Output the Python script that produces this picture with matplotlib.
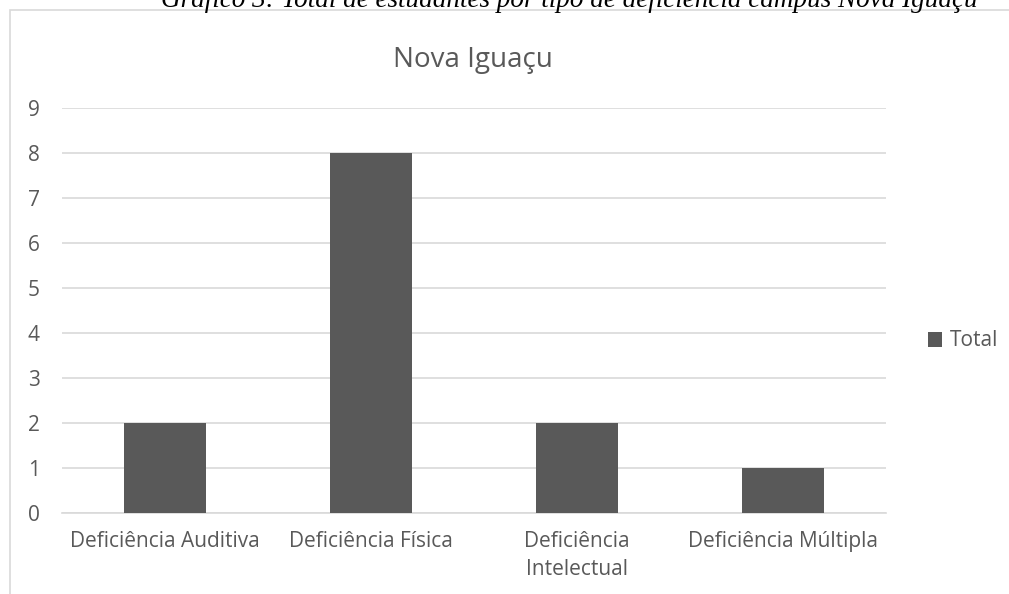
""" total de estudantes por tipo de deficiencia - campus Nova Iguacu """
import matplotlib.pyplot as plt
from matplotlib.patches import Rectangle
import numpy as np

categorias = ["Deficiência Auditiva", "Deficiência Física", "Deficiência\nIntelectual", "Deficiência Múltipla"]
totais = [2, 8, 2, 1]
yticks = list(range(0, 10))

cinza = "#595959"
grade = "#d9d9d9"
fonte = "Open Sans"

fig = plt.figure(figsize=(10.09, 5.94), dpi=100)
W, H = 1009, 594

# moldura do grafico (cortada pela borda da imagem)
fig.patches.append(Rectangle((10 / W, -0.1), 1.2, (594 - 10) / H + 0.1, transform=fig.transFigure,
                             fill=False, edgecolor=grade, linewidth=1.2))

# legenda do documento, cortada no topo como no original
fig.text(569 / W, 1 - 7 / H, "Gráfico 3: Total de estudantes por tipo de deficiência campus Nova Iguaçu",
         family="Liberation Serif", style="italic", fontsize=19.5, ha="center", va="baseline", color="black")

ax = fig.add_axes([62 / W, 1 - 513 / H, 824 / W, (513 - 108) / H])
x = np.arange(len(categorias))
ax.bar(x, totais, width=0.4, color=cinza, zorder=3, label="Total")
ax.set_xlim(-0.5, len(categorias) - 0.5)
ax.set_ylim(0, 9)
ax.set_yticks(yticks)
ax.yaxis.grid(True, color=grade, linewidth=1.2, zorder=0)
ax.set_xticks(x)
ax.set_xticklabels(categorias, family=fonte, fontsize=15, color=cinza, linespacing=1.45)
for lab in ax.get_yticklabels():
    lab.set_family(fonte)
    lab.set_fontsize(15)
    lab.set_color(cinza)
ax.tick_params(length=0, pad=16, axis="y")
ax.tick_params(length=0, pad=13, axis="x")
for s in ["top", "right", "left"]:
    ax.spines[s].set_visible(False)
ax.spines["bottom"].set_color(grade)
ax.spines["bottom"].set_linewidth(1.2)

fig.text(473 / W, 1 - 60 / H, "Nova Iguaçu", family=fonte, fontsize=20, color=cinza,
         ha="center", va="center")

leg = fig.legend(loc="center left", bbox_to_anchor=(909 / W, 1 - 341 / H), frameon=False,
                 prop={"family": fonte, "size": 15}, handlelength=0.7, handleheight=0.7,
                 handletextpad=0.35)
for t in leg.get_texts():
    t.set_color(cinza)

fig.savefig("out.png", dpi=100)
